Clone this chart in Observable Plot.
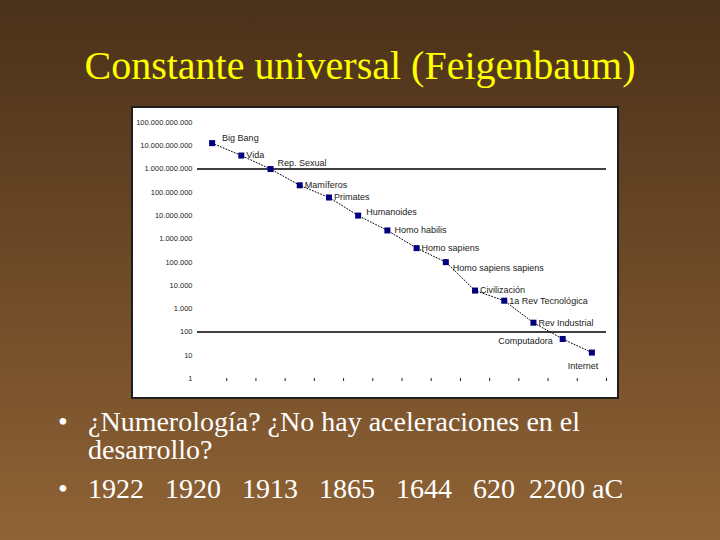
<!DOCTYPE html>
<html>
<head>
<meta charset="utf-8">
<script src="https://cdn.jsdelivr.net/npm/d3@7"></script>
<script src="https://cdn.jsdelivr.net/npm/@observablehq/plot@0.6"></script>
<style>
  html, body { margin: 0; padding: 0; }
  #slide {
    position: relative; width: 720px; height: 540px; overflow: hidden;
    background: linear-gradient(to bottom, #4a3119 0%, #6a4726 45%, #8f6335 100%);
    font-family: "Liberation Serif", "Times New Roman", Times, "DejaVu Serif", serif;
  }
  #title {
    position: absolute; left: 0; width: 720px; top: 40px; text-align: center;
    color: #ffff00; font-size: 40px; line-height: 52px; white-space: nowrap;
    font-family: "Liberation Serif", "Times New Roman", Times, "DejaVu Serif", serif;
  }
  #frame {
    position: absolute; left: 131px; top: 106px; width: 484px; height: 289px;
    border: 2px solid #1e1e1e; background: #fff;
  }
  #frame svg { display: block; }
  .bullets { position: absolute; left: 0; color: #fff; font-size: 28px; line-height: 28px; white-space: pre;
    font-family: "Liberation Serif", "Times New Roman", Times, "DejaVu Serif", serif; }
  .bullets .dot { position: absolute; left: 58px; }
  .bullets .txt { position: absolute; left: 88px; }
</style>
</head>
<body>
<div id="slide">
  <div id="title">Constante universal (Feigenbaum)</div>
  <div id="frame"></div>
  <div class="bullets" style="top:408px"><span class="dot">•</span><span class="txt">¿Numerología? ¿No hay aceleraciones en el
desarrollo?</span></div>
  <div class="bullets" style="top:475px"><span class="dot">•</span><span class="txt">1922   1920   1913   1865   1644   620  2200 aC</span></div>
</div>
<script>
// ---- data ----
const categories = ["Big Bang", "Vida", "Rep. Sexual", "Mamíferos", "Primates", "Humanoides",
  "Homo habilis", "Homo sapiens", "Homo sapiens sapiens", "Civilización",
  "1a Rev Tecnológica", "Rev Industrial", "Computadora", "Internet"];
const yearsAgo = [1.3e10, 3.8e9, 1e9, 2e8, 6e7, 1e7, 2.3e6, 4e5, 1e5, 6000, 2200, 250, 50, 13];
const yTickValues = [1, 10, 100, 1e3, 1e4, 1e5, 1e6, 1e7, 1e8, 1e9, 1e10, 1e11];
const yTickLabels = ["1", "10", "100", "1.000", "10.000", "100.000", "1.000.000", "10.000.000",
  "100.000.000", "1.000.000.000", "10.000.000.000", "100.000.000.000"];
const gridLines = [100, 1e9];

// ---- build ----
const data = categories.map((name, i) => ({ i, name, v: yearsAgo[i] }));
const boundaries = categories.map((_, i) => i + 0.5);

// label placement (style, not data)
const place = {
  "Big Bang": { dx: 10, dy: -5 },
  "Rep. Sexual": { dx: 7, dy: -6 },
  "Humanoides": { dx: 8, dy: -3 },
  "Homo habilis": { dx: 7, dy: 0 },
  "Homo sapiens sapiens": { dx: 7, dy: 6 },
  "Computadora": { dx: -10, dy: 2, textAnchor: "end" },
  "Internet": { dx: -9, dy: 14, textAnchor: "middle" }
};

const labelMarks = data.map(d => {
  const p = place[d.name] || { dx: 5, dy: 0 };
  return Plot.text([d], {
    x: "i", y: "v", text: "name",
    textAnchor: p.textAnchor || "start", dx: p.dx, dy: p.dy,
    fontSize: 9, fill: "#222"
  });
});

const chart = Plot.plot({
  width: 484, height: 289,
  marginLeft: 64, marginRight: 11, marginTop: 14, marginBottom: 19,
  style: { fontFamily: "'Liberation Sans', Arial, sans-serif", background: "#fff", overflow: "visible" },
  x: { type: "linear", domain: [-0.5, categories.length - 0.5] },
  y: { type: "log", domain: [1, 1e11] },
  marks: [
    Plot.axisY({ ticks: yTickValues, tickFormat: d => yTickLabels[yTickValues.indexOf(d)],
      tickSize: 0, tickPadding: 5, fontSize: 7.5, fill: "#222", label: null }),
    Plot.axisX({ ticks: boundaries, tickFormat: () => "", tickSize: 3, stroke: "#222", label: null }),
    Plot.ruleY(gridLines, { x1: -0.5, x2: categories.length - 0.5, stroke: "#000", strokeWidth: 1.4 }),
    Plot.line(data, { x: "i", y: "v", stroke: "#000", strokeWidth: 1, strokeDasharray: "1,2" }),
    Plot.dot(data, { x: "i", y: "v", symbol: "square", fill: "#000080", r: 3.4 }),
    ...labelMarks
  ]
});
document.getElementById("frame").appendChild(chart);
</script>
</body>
</html>
